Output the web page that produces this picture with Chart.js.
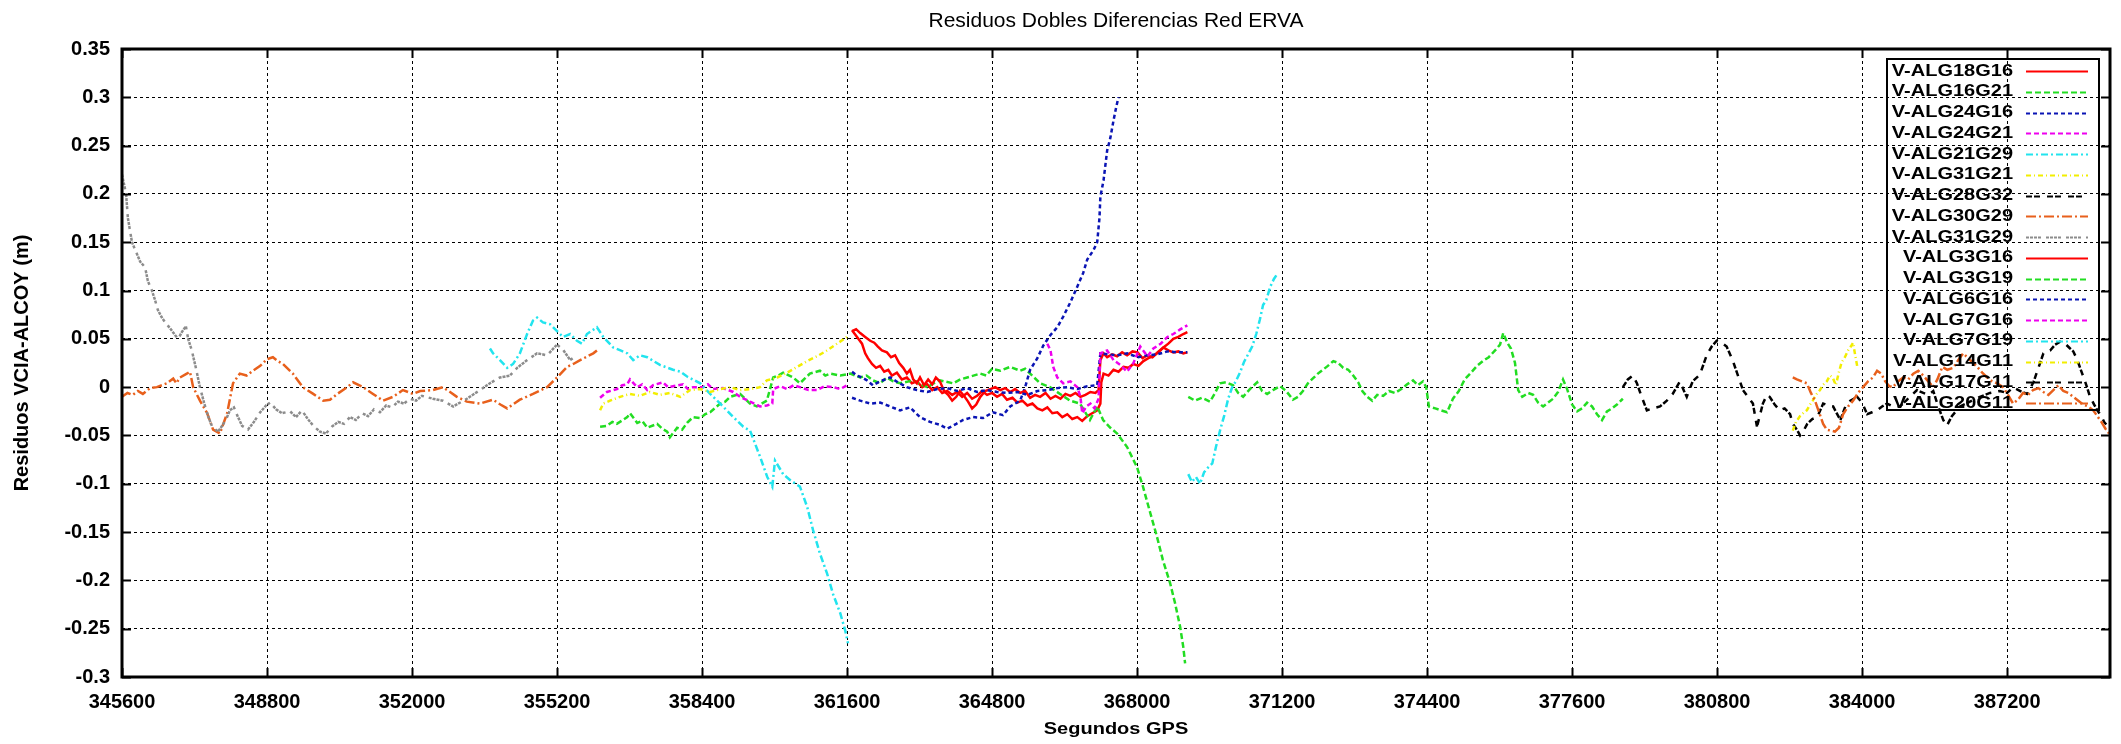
<!DOCTYPE html>
<html lang="es">
<head>
<meta charset="UTF-8">
<title>Residuos Dobles Diferencias Red ERVA</title>
<script src="https://cdn.jsdelivr.net/npm/chart.js"></script>
<style>
  html, body { margin: 0; padding: 0; background: #fff; }
  #wrap { width: 2121px; height: 744px; position: relative; }
</style>
</head>
<body>
<div id="wrap"><canvas id="residuos"></canvas></div>
<script>
// [segundos GPS, residuo (m)] per baseline pair
const alg18g16 = [[361710,0.059],[361820,0.052],[361930,0.045],[362000,0.035],[362060,0.03],[362150,0.024],[362240,0.02],[362330,0.022],[362420,0.016],[362510,0.018],[362590,0.012],[362700,0.015],[362810,0.008],[362920,0.01],[363030,0.004],[363140,0.006],[363260,0.0],[363370,0.003],[363480,-0.003],[363590,0.0],[363700,-0.006],[363810,-0.004],[363920,-0.008],[364030,-0.005],[364140,-0.01],[364250,-0.006],[364360,-0.012],[364470,-0.009],[364580,-0.004],[364690,-0.008],[364800,-0.006],[364910,-0.01],[365020,-0.007],[365130,-0.013],[365250,-0.011],[365360,-0.016],[365470,-0.014],[365580,-0.019],[365690,-0.017],[365800,-0.022],[365910,-0.024],[366020,-0.021],[366130,-0.027],[366240,-0.026],[366350,-0.031],[366460,-0.028],[366570,-0.033],[366680,-0.031],[366790,-0.035],[366900,-0.03],[367010,-0.027],[367120,-0.024],[367190,-0.017],[367210,0.005],[367260,0.014],[367370,0.012],[367480,0.018],[367590,0.016],[367700,0.021],[367810,0.02],[367920,0.024],[368030,0.022],[368140,0.027],[368250,0.03],[368360,0.032],[368470,0.036],[368580,0.041],[368690,0.045],[368800,0.05],[368910,0.052],[369020,0.055],[369110,0.057]];
const alg16g21 = [[356150,-0.041],[356300,-0.04],[356420,-0.036],[356520,-0.038],[356750,-0.031],[356810,-0.027],[356970,-0.037],[357080,-0.035],[357190,-0.042],[357410,-0.038],[357520,-0.043],[357630,-0.046],[357690,-0.052],[357850,-0.042],[357960,-0.044],[358070,-0.037],[358200,-0.031],[358360,-0.032],[358470,-0.028],[358580,-0.026],[358800,-0.017],[358910,-0.015],[359020,-0.01],[359240,-0.007],[359460,-0.017],[359610,-0.02],[359830,-0.014],[359970,0.01],[360080,0.012],[360190,0.015],[360410,0.01],[360560,0.004],[360670,0.009],[360780,0.014],[361000,0.017],[361120,0.012],[361230,0.014],[361450,0.012],[361670,0.014],[361890,0.01],[362030,0.012],[362170,0.007],[362330,0.004],[362480,0.01],[362620,0.006],[362770,0.004],[363060,0.007],[363210,0.003],[363370,0.0],[363510,0.004],[363650,0.007],[363940,0.004],[364100,0.008],[364250,0.01],[364540,0.014],[364670,0.012],[364800,0.019],[364980,0.017],[365200,0.021],[365420,0.017],[365530,0.019],[365640,0.014],[365860,0.004],[366080,0.0],[366300,-0.007],[366520,-0.014],[366740,-0.017],[366960,-0.034],[367120,-0.02],[367250,-0.034],[367410,-0.042],[367560,-0.048],[367780,-0.062],[368000,-0.083],[368130,-0.103],[368290,-0.13],[368440,-0.155],[368570,-0.179],[368730,-0.203],[368840,-0.224],[368950,-0.248],[369020,-0.269],[369060,-0.286]];
const alg24g16 = [[361710,-0.011],[361890,-0.014],[362110,-0.017],[362330,-0.016],[362550,-0.02],[362770,-0.024],[362990,-0.021],[363210,-0.031],[363430,-0.036],[363650,-0.039],[363810,-0.043],[364010,-0.038],[364160,-0.034],[364380,-0.031],[364600,-0.032],[364820,-0.026],[365040,-0.029],[365200,-0.02],[365420,-0.014],[365530,0.0],[365640,0.018],[365800,0.03],[365930,0.043],[366090,0.054],[366240,0.062],[366370,0.073],[366530,0.088],[366680,0.104],[366810,0.118],[366900,0.132],[367040,0.142],[367120,0.15],[367170,0.175],[367190,0.197],[367260,0.214],[367340,0.245],[367410,0.258],[367480,0.276],[367540,0.29],[367590,0.3]];
const alg24g21 = [[356150,-0.011],[356300,-0.005],[356520,-0.002],[356640,0.002],[356750,0.003],[356810,0.008],[356970,0.0],[357080,0.003],[357190,-0.003],[357320,0.002],[357540,0.005],[357650,0.0],[357760,0.001],[357980,0.003],[358090,-0.002],[358200,0.0],[358420,0.0],[358530,0.003],[358640,-0.002],[358860,-0.001],[359090,-0.005],[359240,-0.01],[359460,-0.015],[359680,-0.02],[359830,-0.019],[359950,-0.017],[359970,-0.002],[360120,0.001],[360280,-0.002],[360420,0.002],[360560,0.0],[360750,-0.003],[360940,-0.003],[361100,0.001],[361290,0.0],[361450,-0.002],[361600,0.002]];
const alg21g29 = [[353720,0.04],[353790,0.035],[353940,0.028],[354100,0.02],[354230,0.024],[354380,0.035],[354540,0.055],[354670,0.069],[354760,0.072],[354890,0.067],[355050,0.065],[355200,0.058],[355330,0.052],[355490,0.055],[355640,0.048],[355750,0.045],[355860,0.055],[356080,0.062],[356220,0.052],[356440,0.041],[356600,0.038],[356750,0.035],[356880,0.028],[357030,0.033],[357190,0.031],[357470,0.023],[357760,0.018],[357920,0.016],[358070,0.011],[358360,0.004],[358580,-0.007],[358800,-0.017],[359090,-0.031],[359310,-0.041],[359460,-0.045],[359680,-0.072],[359840,-0.093],[359950,-0.103],[360010,-0.076],[360190,-0.09],[360340,-0.096],[360560,-0.103],[360720,-0.124],[360850,-0.148],[361000,-0.172],[361160,-0.193],[361290,-0.214],[361450,-0.234],[361560,-0.252],[361620,-0.265]];
const alg31g21 = [[356150,-0.024],[356220,-0.017],[356370,-0.014],[356590,-0.01],[356810,-0.007],[357030,-0.009],[357250,-0.005],[357470,-0.008],[357690,-0.006],[357920,-0.01],[358140,-0.003],[358360,-0.002],[358580,-0.005],[358800,-0.002],[359020,0.0],[359240,-0.003],[359460,-0.002],[359680,0.0],[359830,0.007],[360060,0.01],[360280,0.015],[360500,0.021],[360720,0.027],[360940,0.032],[361160,0.038],[361380,0.045],[361600,0.052]];
const alg28g32 = [[378720,0.0],[378830,0.008],[378940,0.012],[379030,0.004],[379120,-0.008],[379250,-0.024],[379380,-0.022],[379540,-0.02],[379690,-0.014],[379820,-0.007],[379980,0.006],[380070,-0.004],[380130,-0.01],[380260,0.006],[380420,0.013],[380570,0.033],[380680,0.042],[380790,0.048],[380900,0.046],[381010,0.042],[381150,0.027],[381260,0.012],[381370,-0.003],[381480,-0.01],[381590,-0.017],[381680,-0.041],[381740,-0.03],[381810,-0.017],[381900,-0.008],[381960,-0.01],[382070,-0.018],[382180,-0.024],[382290,-0.022],[382410,-0.028],[382470,-0.038],[382560,-0.044],[382630,-0.05],[382720,-0.044],[382790,-0.038],[382900,-0.033],[383010,-0.031],[383140,-0.017],[383250,-0.019],[383360,-0.02],[383450,-0.028],[383520,-0.034]];
const alg30g29 = [[345600,-0.01],[345720,-0.006],[345840,-0.008],[345950,-0.004],[346060,-0.007],[346220,-0.001],[346370,0.0],[346590,0.004],[346730,0.009],[346800,0.004],[346880,0.01],[347030,0.014],[347100,0.016],[347170,0.0],[347320,-0.014],[347480,-0.027],[347610,-0.044],[347760,-0.048],[347920,-0.027],[348050,0.004],[348200,0.014],[348350,0.012],[348490,0.017],[348650,0.022],[348800,0.029],[348930,0.031],[349040,0.027],[349150,0.024],[349370,0.014],[349590,0.0],[349820,-0.007],[350040,-0.014],[350190,-0.013],[350350,-0.007],[350570,0.0],[350700,0.005],[350920,0.0],[351140,-0.007],[351360,-0.014],[351580,-0.01],[351800,-0.003],[352020,-0.007],[352180,-0.004],[352460,-0.003],[352680,0.0],[352840,-0.005],[352990,-0.01],[353210,-0.015],[353500,-0.017],[353790,-0.013],[353950,-0.018],[354100,-0.022],[354380,-0.013],[354670,-0.007],[354980,0.0],[355200,0.01],[355420,0.021],[355560,0.024],[355710,0.028],[356000,0.035],[356080,0.038]];
const alg31g29 = [[345600,0.22],[345690,0.2],[345730,0.175],[345820,0.15],[345910,0.14],[346000,0.13],[346110,0.124],[346170,0.11],[346260,0.1],[346330,0.09],[346390,0.08],[346480,0.072],[346570,0.066],[346660,0.061],[346770,0.054],[346840,0.05],[346920,0.057],[347010,0.063],[347060,0.05],[347140,0.038],[347230,0.02],[347320,0.0],[347410,-0.016],[347500,-0.03],[347590,-0.041],[347720,-0.046],[347810,-0.04],[347900,-0.033],[347980,-0.024],[348070,-0.021],[348160,-0.031],[348250,-0.04],[348380,-0.044],[348510,-0.036],[348650,-0.026],[348780,-0.019],[348870,-0.016],[349000,-0.023],[349130,-0.027],[349310,-0.025],[349440,-0.031],[349570,-0.024],[349700,-0.033],[349840,-0.041],[349970,-0.046],[350100,-0.048],[350230,-0.041],[350370,-0.036],[350500,-0.038],[350630,-0.031],[350760,-0.034],[350900,-0.027],[351030,-0.03],[351160,-0.023],[351290,-0.026],[351430,-0.019],[351560,-0.021],[351690,-0.015],[351820,-0.017],[351960,-0.012],[352090,-0.014],[352220,-0.009],[352460,-0.012],[352680,-0.014],[352910,-0.02],[353210,-0.012],[353500,-0.003],[353720,0.004],[353940,0.01],[354160,0.012],[354320,0.02],[354540,0.028],[354760,0.035],[354980,0.033],[355200,0.044],[355330,0.039],[355490,0.028],[355550,0.03]];
const alg3g16 = [[361710,0.058],[361800,0.06],[361890,0.056],[362000,0.052],[362110,0.048],[362200,0.046],[362280,0.042],[362370,0.038],[362480,0.036],[362570,0.031],[362660,0.033],[362750,0.025],[362840,0.02],[362920,0.014],[362990,0.018],[363060,0.008],[363140,0.004],[363210,0.01],[363300,0.002],[363390,0.008],[363480,0.003],[363560,0.01],[363650,0.006],[363740,-0.004],[363830,-0.008],[363920,-0.014],[364010,-0.01],[364090,-0.004],[364180,-0.009],[364270,-0.015],[364360,-0.022],[364450,-0.018],[364540,-0.01],[364650,-0.004],[364760,-0.002],[364870,0.0],[364980,-0.003],[365090,-0.001],[365200,-0.005],[365310,-0.002],[365420,-0.006],[365530,-0.004],[365640,-0.011],[365750,-0.008],[365860,-0.01],[365980,-0.006],[366090,-0.012],[366200,-0.009],[366310,-0.012],[366420,-0.007],[366530,-0.009],[366640,-0.006],[366750,-0.01],[366860,-0.008],[366970,-0.005],[367080,-0.006],[367150,-0.003],[367190,0.028],[367260,0.035],[367340,0.031],[367450,0.034],[367560,0.032],[367670,0.036],[367780,0.033],[367900,0.037],[368010,0.036],[368120,0.03],[368230,0.033],[368340,0.031],[368450,0.036],[368580,0.041],[368690,0.038],[368800,0.036],[368910,0.037],[369020,0.035],[369110,0.036]];
const alg3g19 = [[369130,-0.01],[369280,-0.014],[369430,-0.011],[369610,-0.015],[369720,-0.006],[369830,0.004],[369960,0.005],[370120,0.002],[370230,-0.006],[370340,-0.01],[370490,-0.002],[370650,0.005],[370760,-0.004],[370870,-0.007],[371000,-0.003],[371160,0.001],[371290,-0.004],[371440,-0.013],[371550,-0.01],[371660,-0.004],[371770,0.004],[371880,0.009],[371990,0.014],[372100,0.018],[372210,0.022],[372330,0.027],[372440,0.025],[372550,0.02],[372660,0.018],[372770,0.012],[372880,0.005],[372970,-0.004],[373080,-0.01],[373190,-0.014],[373300,-0.008],[373430,-0.009],[373560,-0.004],[373690,-0.006],[373830,-0.002],[373960,0.003],[374090,0.007],[374200,0.002],[374310,0.006],[374380,0.0],[374440,-0.02],[374580,-0.022],[374710,-0.024],[374840,-0.026],[374970,-0.012],[375100,-0.004],[375230,0.008],[375370,0.015],[375500,0.022],[375630,0.027],[375760,0.031],[375900,0.038],[376010,0.044],[376080,0.056],[376170,0.046],[376250,0.04],[376340,0.025],[376410,-0.003],[376500,-0.01],[376630,-0.006],[376740,-0.008],[376850,-0.016],[376960,-0.02],[377070,-0.016],[377180,-0.012],[377290,-0.005],[377400,0.008],[377490,-0.002],[377600,-0.018],[377710,-0.025],[377820,-0.022],[377930,-0.016],[378040,-0.02],[378150,-0.028],[378260,-0.034],[378370,-0.025],[378480,-0.022],[378590,-0.018],[378720,-0.012]];
const alg6g16 = [[361710,0.016],[361820,0.012],[361930,0.01],[362040,0.007],[362170,0.002],[362330,0.006],[362550,0.01],[362720,0.005],[362920,0.0],[363140,-0.003],[363370,-0.005],[363590,-0.002],[363810,-0.001],[364030,-0.004],[364250,-0.001],[364470,-0.005],[364690,-0.003],[364910,-0.005],[365130,-0.006],[365360,-0.005],[365580,-0.008],[365800,-0.004],[366020,-0.003],[366240,-0.001],[366460,0.0],[366680,-0.002],[366900,0.001],[367120,0.002],[367190,0.035],[367340,0.034],[367560,0.033],[367780,0.035],[368010,0.031],[368230,0.033],[368450,0.034],[368670,0.037],[368890,0.036],[369110,0.036]];
const alg7g16 = [[366020,0.045],[366090,0.038],[366150,0.021],[366240,0.01],[366370,0.004],[366530,0.006],[366680,0.0],[366750,-0.01],[366790,-0.027],[366880,-0.02],[366970,-0.017],[367060,-0.022],[367150,-0.012],[367190,0.035],[367340,0.038],[367480,0.028],[367630,0.023],[367780,0.016],[367920,0.025],[368070,0.042],[368230,0.032],[368360,0.04],[368520,0.045],[368670,0.052],[368800,0.055],[368960,0.06],[369110,0.064]];
const alg7g19 = [[369130,-0.09],[369210,-0.098],[369300,-0.093],[369390,-0.1],[369480,-0.088],[369570,-0.083],[369660,-0.079],[369740,-0.062],[369830,-0.045],[369920,-0.03],[370010,-0.012],[370100,0.0],[370180,0.006],[370270,0.015],[370360,0.026],[370450,0.034],[370540,0.042],[370630,0.055],[370710,0.07],[370780,0.085],[370850,0.09],[370940,0.104],[371020,0.112],[371090,0.117]];
const alg14g11 = [[382470,-0.045],[382540,-0.036],[382630,-0.03],[382720,-0.026],[382780,-0.024],[382850,-0.018],[382910,-0.014],[382980,-0.008],[383070,-0.003],[383130,0.002],[383220,0.006],[383290,0.012],[383350,0.01],[383420,0.002],[383490,0.016],[383550,0.026],[383620,0.031],[383690,0.038],[383750,0.042],[383800,0.046],[383840,0.035],[383890,0.022]];
const alg17g11 = [[383520,-0.034],[383630,-0.02],[383740,-0.014],[383890,-0.01],[384000,-0.016],[384110,-0.028],[384220,-0.026],[384330,-0.024],[384440,-0.02],[384550,-0.017],[384680,-0.02],[384830,-0.02],[384970,-0.014],[385100,-0.008],[385210,-0.003],[385350,-0.006],[385460,-0.008],[385570,-0.004],[385680,-0.02],[385790,-0.034],[385870,-0.04],[385980,-0.03],[386160,-0.02],[386380,-0.015],[386600,-0.01],[386820,-0.006],[387040,-0.004],[387200,-0.006],[387330,0.0],[387490,-0.004],[387640,-0.007],[387780,0.005],[387890,0.02],[388000,0.035],[388150,0.038],[388260,0.044],[388370,0.047],[388480,0.045],[388590,0.04],[388660,0.037],[388750,0.028],[388810,0.02],[388920,0.006],[389030,-0.01],[389120,-0.018],[389190,-0.024],[389280,-0.03],[389340,-0.036],[389410,-0.04]];
const alg20g11 = [[382470,0.01],[382560,0.008],[382670,0.006],[382780,0.004],[382870,-0.006],[382960,-0.014],[383050,-0.026],[383140,-0.038],[383220,-0.044],[383310,-0.045],[383400,-0.046],[383490,-0.042],[383580,-0.028],[383690,-0.02],[383800,-0.014],[383910,-0.006],[384020,0.0],[384130,0.006],[384240,0.01],[384330,0.017],[384420,0.014],[384510,0.006],[384600,0.001],[384680,0.0],[384790,0.006],[384910,0.01],[385020,0.008],[385130,0.014],[385240,0.017],[385350,0.012],[385460,0.006],[385570,0.0],[385660,0.008],[385770,0.021],[385880,0.018],[386010,0.02],[386120,0.028],[386230,0.035],[386340,0.03],[386450,0.025],[386540,0.021],[386650,0.015],[386760,0.01],[386870,0.006],[386980,0.004],[387110,0.0],[387220,-0.008],[387330,-0.017],[387440,-0.013],[387550,-0.006],[387660,-0.008],[387770,-0.003],[387890,-0.001],[388000,-0.005],[388110,-0.008],[388220,-0.003],[388330,0.002],[388440,-0.004],[388550,-0.006],[388660,-0.01],[388770,-0.014],[388880,-0.018],[388990,-0.02],[389100,-0.024],[389190,-0.03],[389280,-0.036],[389370,-0.043],[389450,-0.048]];

const seriesNames = ['V-ALG18G16', 'V-ALG16G21', 'V-ALG24G16', 'V-ALG24G21', 'V-ALG21G29', 'V-ALG31G21',
  'V-ALG28G32', 'V-ALG30G29', 'V-ALG31G29', 'V-ALG3G16', 'V-ALG3G19', 'V-ALG6G16', 'V-ALG7G16',
  'V-ALG7G19', 'V-ALG14G11', 'V-ALG17G11', 'V-ALG20G11'];
const seriesData = [alg18g16, alg16g21, alg24g16, alg24g21, alg21g29, alg31g21, alg28g32, alg30g29,
  alg31g29, alg3g16, alg3g19, alg6g16, alg7g16, alg7g19, alg14g11, alg17g11, alg20g11];

const xTicks = [345600, 348800, 352000, 355200, 358400, 361600, 364800, 368000, 371200, 374400, 377600, 380800, 384000, 387200];
const yTicks = [-0.3, -0.25, -0.2, -0.15, -0.1, -0.05, 0, 0.05, 0.1, 0.15, 0.2, 0.25, 0.3, 0.35];

// gnuplot-like line types, cycled
const lineColors = ['#ff0000', '#22dd22', '#0a14b4', '#ee00ee', '#22e4ee', '#f2ee00', '#000000', '#e8601c', '#8c8c8c'];
const lineDashes = [[], [6, 3], [4, 3], [5, 3], [7, 3, 2, 3], [5, 3, 1, 3], [6, 2, 6, 7], [10, 3, 2, 3], [3, 1, 3, 1, 3, 1, 3, 5]];

const FONT = '"Liberation Sans", Arial, sans-serif';
Chart.defaults.font.family = FONT;
Chart.defaults.color = '#000';

const datasets = seriesData.map((pts, i) => ({
  label: seriesNames[i],
  data: pts.map(p => ({ x: p[0], y: p[1] })),
  showLine: true,
  borderColor: lineColors[i % 9],
  borderDash: lineDashes[i % 9],
  borderWidth: 2.5,
  pointRadius: 0,
  fill: false,
  tension: 0,
  order: -i
}));

// title, axis titles, frame, inner tick marks and legend
const decor = {
  id: 'decor',
  afterDatasetsDraw(chart) {
    const { ctx, chartArea: a, scales: { x, y } } = chart;
    ctx.save();
    ctx.strokeStyle = '#000';
    ctx.lineWidth = 2;
    ctx.setLineDash([]);
    ctx.beginPath();
    x.ticks.forEach(t => {
      const px = Math.round(x.getPixelForValue(t.value)) + 0.5;
      ctx.moveTo(px, a.bottom); ctx.lineTo(px, a.bottom - 9);
      ctx.moveTo(px, a.top); ctx.lineTo(px, a.top + 9);
    });
    y.ticks.forEach(t => {
      const py = Math.round(y.getPixelForValue(t.value)) + 0.5;
      ctx.moveTo(a.left, py); ctx.lineTo(a.left + 9, py);
      ctx.moveTo(a.right, py); ctx.lineTo(a.right - 9, py);
    });
    ctx.stroke();
    ctx.lineWidth = 3;
    ctx.strokeRect(a.left, a.top, a.right - a.left, a.bottom - a.top);

    // legend box (unfilled, curves show through)
    const lx = 1887, ly = 59, lw = 212, lh = 351;
    ctx.lineWidth = 2;
    ctx.strokeRect(lx, ly, lw, lh);
    ctx.font = 'bold 20px ' + FONT;
    ctx.textAlign = 'right';
    ctx.textBaseline = 'middle';
    seriesNames.forEach((name, i) => {
      const cy = 71 + i * 20.75;
      ctx.save();
      ctx.translate(2013, cy);
      ctx.scale(1, 0.85);
      ctx.fillStyle = '#000';
      ctx.fillText(name, 0, 0);
      ctx.restore();
      ctx.save();
      ctx.strokeStyle = lineColors[i % 9];
      ctx.setLineDash(lineDashes[i % 9]);
      ctx.lineWidth = 2;
      ctx.beginPath();
      ctx.moveTo(2026, Math.round(cy) + 0.5);
      ctx.lineTo(2088, Math.round(cy) + 0.5);
      ctx.stroke();
      ctx.restore();
    });
    ctx.restore();
  },
  afterDraw(chart) {
    const { ctx } = chart;
    ctx.save();
    ctx.fillStyle = '#000';
    // chart title
    ctx.font = '21px ' + FONT;
    ctx.textAlign = 'center';
    ctx.textBaseline = 'alphabetic';
    ctx.fillText('Residuos Dobles Diferencias Red ERVA', 1116, 27);
    // x axis title
    ctx.font = 'bold 20px ' + FONT;
    ctx.textBaseline = 'middle';
    ctx.save();
    ctx.translate(1116, 729);
    ctx.scale(1, 0.85);
    ctx.fillText('Segundos GPS', 0, 0);
    ctx.restore();
    // y axis title
    ctx.save();
    ctx.translate(22, 363);
    ctx.rotate(-Math.PI / 2);
    ctx.fillText('Residuos VCIA-ALCOY (m)', 0, 0);
    ctx.restore();
    ctx.restore();
  }
};

new Chart(document.getElementById('residuos'), {
  type: 'scatter',
  data: { datasets },
  plugins: [decor],
  options: {
    responsive: true,
    maintainAspectRatio: false,
    animation: false,
    layout: { padding: { left: 0, top: 49, right: 11, bottom: 0 } },
    plugins: { legend: { display: false }, tooltip: { enabled: false }, title: { display: false } },
    scales: {
      x: {
        type: 'linear',
        min: 345600,
        max: 389470,
        afterBuildTicks: s => { s.ticks = xTicks.map(v => ({ value: v })); },
        afterFit: s => { s.height = 67; },
        grid: { color: '#000', lineWidth: 1, drawTicks: false },
        border: { display: false, dash: [3, 3] },
        ticks: {
          autoSkip: false, maxRotation: 0, padding: 13,
          font: { size: 20, weight: 'bold' },
          callback: v => String(v)
        }
      },
      y: {
        type: 'linear',
        min: -0.3,
        max: 0.35,
        afterBuildTicks: s => { s.ticks = yTicks.map(v => ({ value: v })); },
        afterFit: s => { s.width = 122; },
        grid: { color: '#000', lineWidth: 1, drawTicks: false },
        border: { display: false, dash: [3, 3] },
        ticks: {
          autoSkip: false, padding: 12,
          font: { size: 20, weight: 'bold' },
          callback: v => String(Number(v.toFixed(2)))
        }
      }
    }
  }
});
</script>
</body>
</html>
